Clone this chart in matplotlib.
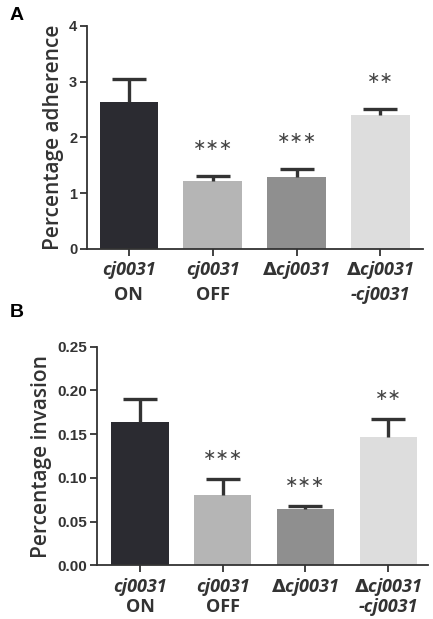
import matplotlib
matplotlib.use("Agg")
import matplotlib.pyplot as plt

# ---- data ---------------------------------------------------------------
strains = ["cj0031", "cj0031", r"$\mathbf{\Delta}$cj0031", r"$\mathbf{\Delta}$cj0031"]
strain_sub = ["ON", "OFF", "", "-cj0031"]
bar_colors = ["#2b2b31", "#b5b5b5", "#8f8f8f", "#dddddd"]

adherence = [2.64, 1.21, 1.29, 2.40]
adherence_err = [0.41, 0.10, 0.14, 0.11]
adherence_sig = ["", "***", "***", "**"]

invasion = [0.164, 0.080, 0.064, 0.147]
invasion_err = [0.026, 0.019, 0.004, 0.020]
invasion_sig = ["", "***", "***", "**"]

DARK = "#333333"


def panel(ax, vals, errs, sig, ylabel, ylim, yticks, fmt, star_off,
          width, tick_fs, lab_y):
    x = range(len(vals))
    ax.bar(x, vals, width=width, color=bar_colors, zorder=2)
    eb = ax.errorbar(x, vals, yerr=[[0] * len(errs), errs], fmt="none",
                     ecolor=DARK, elinewidth=2.4, capsize=12, capthick=2.4,
                     zorder=3)
    eb[1][0].set_visible(False)   # only upper cap
    for i, s in enumerate(sig):
        if s:
            ax.text(i, vals[i] + errs[i] + star_off, "\u2217" * len(s),
                    ha="center", va="center", fontsize=11.5, color="#444444",
                    family="DejaVu Sans")
    ax.set_ylim(*ylim)
    ax.set_yticks(yticks)
    ax.set_yticklabels([fmt % t for t in yticks], fontsize=tick_fs,
                       fontweight="bold", family="Liberation Sans", color=DARK)
    ax.set_xticks(list(x))
    ax.set_xticklabels([])
    for sp in ("top", "right"):
        ax.spines[sp].set_visible(False)
    for sp in ("left", "bottom"):
        ax.spines[sp].set_linewidth(1.3)
        ax.spines[sp].set_color(DARK)
    ax.tick_params(direction="out", length=5, width=1.3, color=DARK, pad=2)
    ax.set_ylabel(ylabel, fontsize=15, family="Open Sans", fontweight=600,
                  color=DARK, labelpad=4)
    tr = ax.get_xaxis_transform()
    for i, (a, b) in enumerate(zip(strains, strain_sub)):
        ax.text(i, lab_y[0], a, transform=tr, ha="center", va="center",
                fontsize=13, fontweight="bold", style="italic",
                family="Open Sans", color=DARK)
        if b:
            ax.text(i, lab_y[1], b, transform=tr, ha="center", va="center",
                    fontsize=13, fontweight="bold",
                    style="italic" if b.startswith("-") else "normal",
                    family="Open Sans", color=DARK)


fig = plt.figure(figsize=(4.33, 6.19), dpi=100)

axA = fig.add_axes([0.201, 0.598, 0.776, 0.360])
panel(axA, adherence, adherence_err, adherence_sig, "Percentage adherence",
      (0, 4), [0, 1, 2, 3, 4], "%d", 0.55, 0.70, 10.5, (-0.094, -0.205))
axA.set_xlim(-0.5, 3.51)

axB = fig.add_axes([0.224, 0.0865, 0.764, 0.3535])
panel(axB, invasion, invasion_err, invasion_sig, "Percentage invasion",
      (0, 0.25), [0, 0.05, 0.10, 0.15, 0.20, 0.25], "%.2f", 0.027, 0.69,
      11, (-0.098, -0.19))
axB.set_xlim(-0.52, 3.48)

fig.text(0.023, 0.975, "A", fontsize=14, fontweight="bold",
         family="Liberation Sans", va="center", ha="left")
fig.text(0.023, 0.495, "B", fontsize=14, fontweight="bold",
         family="Liberation Sans", va="center", ha="left")

fig.savefig("out.png", dpi=100)
